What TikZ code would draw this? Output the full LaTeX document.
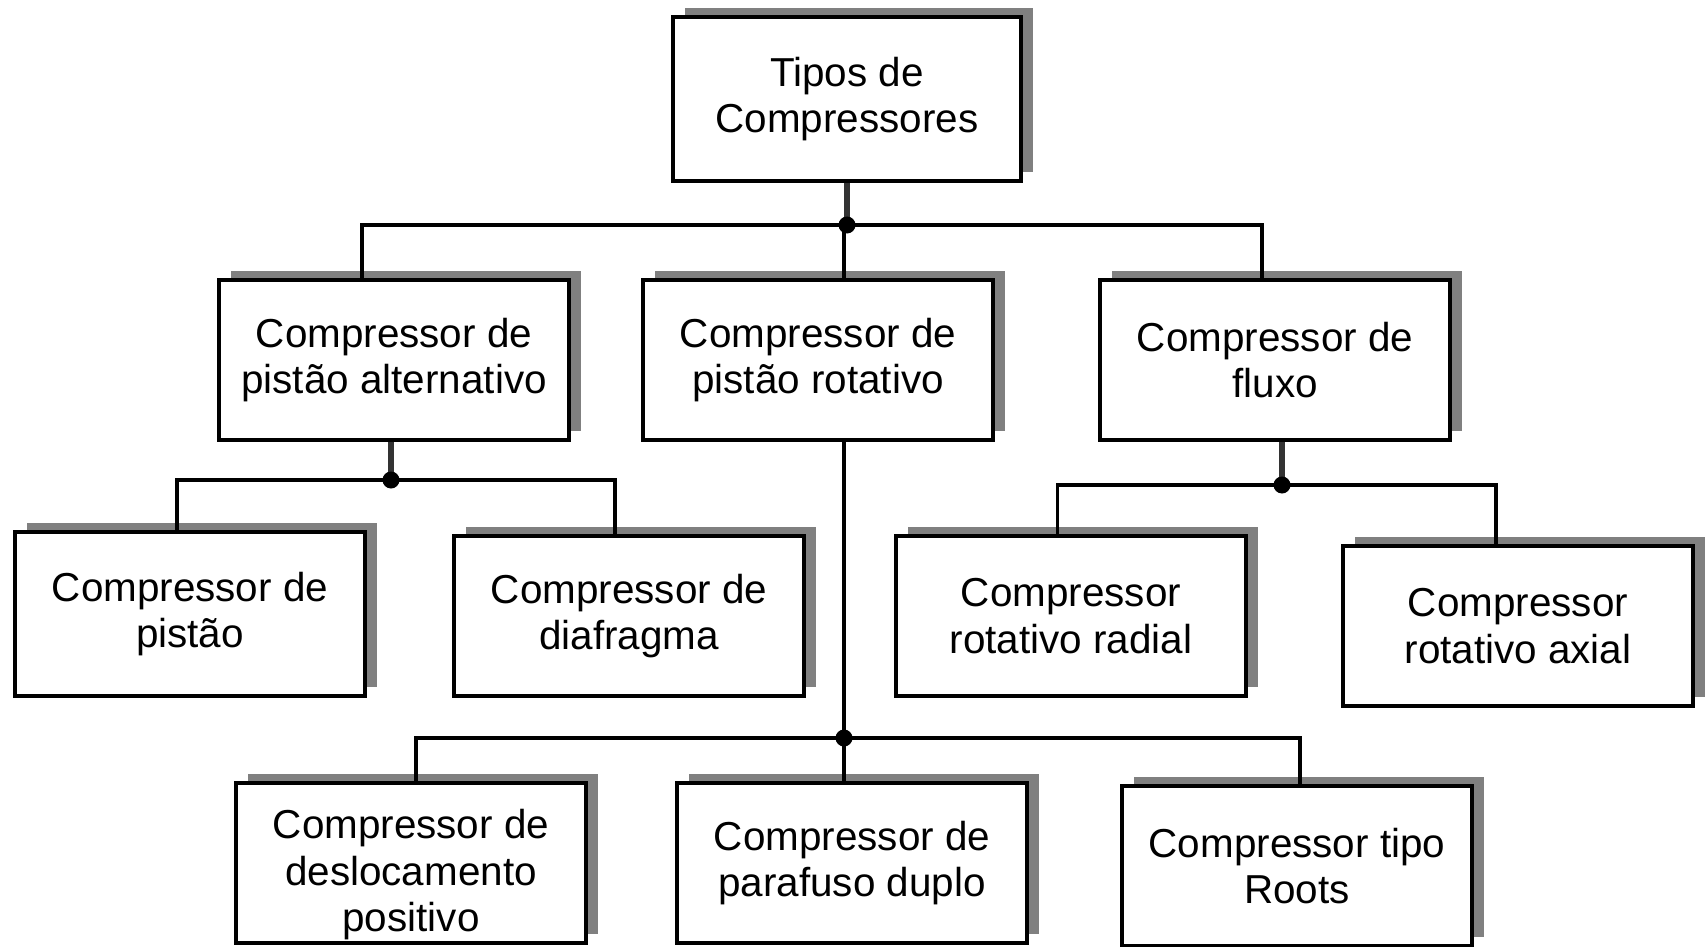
\documentclass[tikz,border=0pt]{standalone}
\usepackage{fontspec}
\setmainfont{Liberation Sans}
\usepackage{tikz}
\usetikzlibrary{shadows,positioning}

\begin{document}
\begin{tikzpicture}[
    box/.style={rectangle, draw, line width=1.2pt, fill=white, align=center,
        minimum width=3.5cm, minimum height=1.6cm,
        font=\fontsize{11.5}{13.3}\selectfont,
        drop shadow={shadow xshift=0.12cm, shadow yshift=0.09cm, fill=black!50, opacity=1}},
    link/.style={line width=1.1pt},
    stub/.style={line width=1.6pt, black!80},
    dot/.style={fill=black}
]
\useasboundingbox (0,0) rectangle (17.06,-9.47);
\clip (0,0) rectangle (17.06,-9.47);

% boxes
\node[box, minimum width=3.48cm, minimum height=1.64cm] (tipos) at (8.47,-0.99) {Tipos de\\Compressores};

\node[box] (alt) at (3.94,-3.60) {Compressor de\\pistão alternativo};
\node[box] (rot) at (8.18,-3.60) {Compressor de\\pistão rotativo};
\node[box] (fluxo) at (12.75,-3.60) {Compressor de\\fluxo};

\node[box, minimum height=1.64cm] (pistao) at (1.90,-6.14) {Compressor de\\pistão};
\node[box] (diafragma) at (6.29,-6.16) {Compressor de\\diafragma};
\node[box] (radial) at (10.71,-6.16) {Compressor\\rotativo radial};
\node[box] (axial) at (15.18,-6.26) {Compressor\\rotativo axial};

\node[box, inner ysep=0pt] (desloc) at (4.11,-8.63) {\rule{0pt}{15pt}Compressor de\\deslocamento\\positivo};
\node[box] (parafuso) at (8.52,-8.63) {Compressor de\\parafuso duplo};
\node[box] (roots) at (12.97,-8.66) {Compressor tipo\\Roots};

% junctions
\coordinate (j1) at (8.47,-2.25);
\coordinate (j2) at (3.91,-4.80);
\coordinate (j3) at (12.82,-4.85);
\coordinate (j4) at (8.44,-7.38);

% top level
\draw[stub] (tipos.south) -- (j1);
\draw[link] (j1) -| ([xshift=-0.32cm]alt.north);
\draw[link] (j1) -| ([xshift=0.26cm]rot.north);
\draw[link] (j1) -| ([xshift=-0.13cm]fluxo.north);

% pistao alternativo
\draw[stub] (alt.south -| j2) -- (j2);
\draw[link] (j2) -| ([xshift=-0.13cm]pistao.north);
\draw[link] (j2) -| ([xshift=-0.14cm]diafragma.north);

% fluxo
\draw[stub] (fluxo.south -| j3) -- (j3);
\draw[link] (j3) -| ([xshift=-0.135cm]radial.north);
\draw[link] (j3) -| ([xshift=-0.22cm]axial.north);

% pistao rotativo
\draw[link] (rot.south -| j4) -- (j4);
\draw[link] (j4) -| ([xshift=0.05cm]desloc.north);
\draw[link] (j4) -- (j4 |- parafuso.north);
\draw[link] (j4) -| ([xshift=0.03cm]roots.north);

\foreach \j in {j1,j2,j3,j4}
    \fill[dot] (\j) circle (0.085);
\end{tikzpicture}
\end{document}
